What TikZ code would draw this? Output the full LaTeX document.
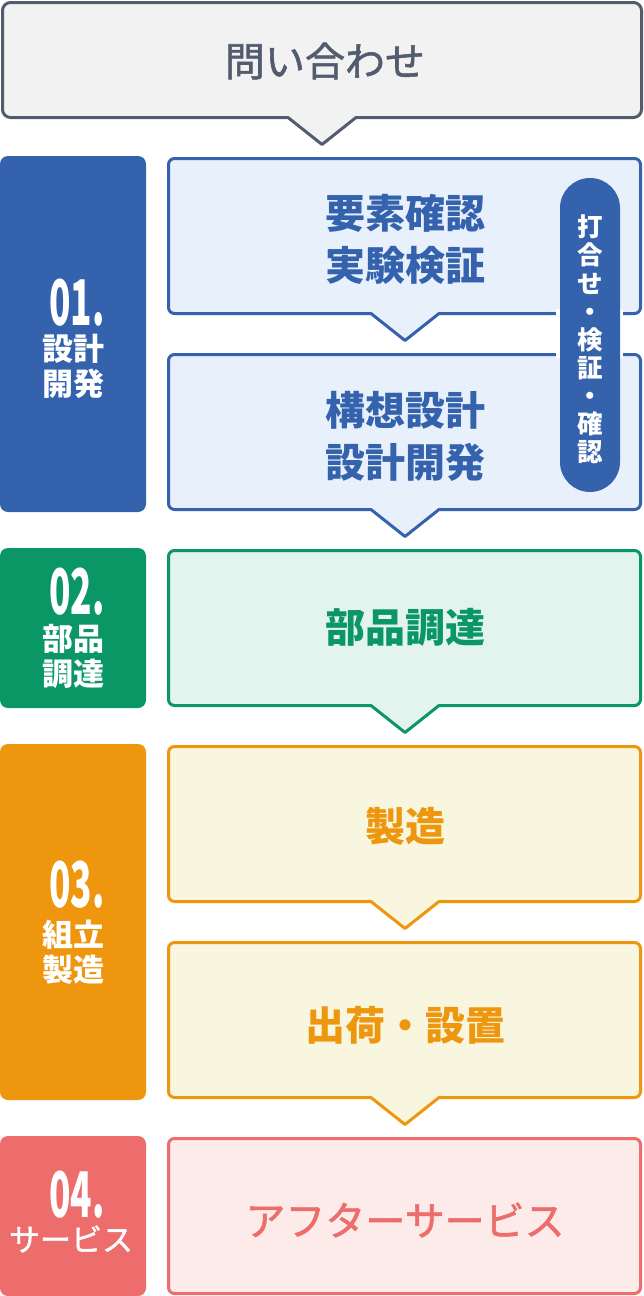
\documentclass[tikz,border=0pt]{standalone}
\usepackage{fontspec}
\newfontfamily\cjk{Noto Sans CJK JP}
\newfontfamily\cjkm{Noto Sans CJK JP}[FakeBold=1.4]
\definecolor{gline}{HTML}{535C6E}
\definecolor{gfill}{HTML}{F2F2F2}
\definecolor{bline}{HTML}{3462AD}
\definecolor{bfill}{HTML}{E8F1FB}
\definecolor{vline}{HTML}{0B9665}
\definecolor{vfill}{HTML}{E3F3EE}
\definecolor{oline}{HTML}{EE960D}
\definecolor{ofill}{HTML}{F8F6DF}
\definecolor{rline}{HTML}{ED6C6C}
\definecolor{rfill}{HTML}{FCEBE8}
% #1 style, #2 x1, #3 y1, #4 x2, #5 y2, #6 pointer x, #7 radius
\newcommand\mybubble[7]{%
  \draw[#1] (#6-34,#5) -- (#2+#7,#5)
    arc[start angle=90,end angle=180,radius=#7] -- (#2,#3+#7)
    arc[start angle=180,end angle=270,radius=#7] -- (#4-#7,#3)
    arc[start angle=270,end angle=360,radius=#7] -- (#4,#5-#7)
    arc[start angle=0,end angle=90,radius=#7] -- (#6+34,#5) -- (#6,#5+27) -- cycle;}
\newcommand\mybox[5]{%
  \draw[#1] (#2+6,#5)
    arc[start angle=90,end angle=180,radius=6] -- (#2,#3+6)
    arc[start angle=180,end angle=270,radius=6] -- (#4-6,#3)
    arc[start angle=270,end angle=360,radius=6] -- (#4,#5-6)
    arc[start angle=0,end angle=90,radius=6] -- cycle;}
\tikzset{
  bub/.style={line width=3pt, line join=round},
  tag/.style={rounded corners=8pt},
  boxtxt/.style={inner sep=0pt, align=center, font=\cjk\bfseries\fontsize{40}{52}\selectfont},
  tagnum/.style={inner sep=0pt, text=white, font=\cjk\bfseries\fontsize{63}{63}\selectfont},
  tagtxt/.style={inner sep=0pt, text=white, align=center, font=\cjk\bfseries\fontsize{31}{35}\selectfont},
}
\begin{document}
\begin{tikzpicture}[x=1pt,y=-1pt]
\useasboundingbox (0,0) rectangle (644,1296);
% top box
\mybubble{bub, draw=gline, fill=gfill}{2.5}{2.5}{641.5}{117.5}{322}{8}
\node[inner sep=0pt, text=gline, font=\cjkm\fontsize{40}{40}\selectfont] (ask) at (325,61) {問い合わせ};
% left tags
\fill[tag, bline] (0,156) rectangle (146,512);
\fill[tag, vline] (0,548) rectangle (146,708);
\fill[tag, oline] (0,744) rectangle (146,1100);
\fill[tag, rline] (0,1136) rectangle (146,1296);
\node[tagnum] (n1) at (77,303) {\scalebox{0.56}[1]{01.}};
\node[tagtxt] (t1) at (73,366.5) {設計\\開発};
\node[tagnum] (n2) at (77,592) {\scalebox{0.56}[1]{02.}};
\node[tagtxt] (t2) at (73,656.5) {部品\\調達};
\node[tagnum] (n3) at (77,884.5) {\scalebox{0.56}[1]{03.}};
\node[tagtxt] (t3) at (73,952) {組立\\製造};
\node[tagnum] (n4) at (77,1195) {\scalebox{0.56}[1]{04.}};
\node[tagtxt, font=\cjkm\fontsize{31}{35}\selectfont] (t4) at (71,1239) {サービス};
% right boxes
\mybubble{bub, draw=bline, fill=bfill}{168.5}{158.5}{640.5}{313.5}{405}{6}
\mybubble{bub, draw=bline, fill=bfill}{168.5}{354.5}{640.5}{509.5}{405}{6}
\mybubble{bub, draw=vline, fill=vfill}{168.5}{550.5}{640.5}{705.5}{405}{6}
\mybubble{bub, draw=oline, fill=ofill}{168.5}{746.5}{640.5}{901.5}{405}{6}
\mybubble{bub, draw=oline, fill=ofill}{168.5}{942.5}{640.5}{1097.5}{405}{6}
\mybox{bub, draw=rline, fill=rfill}{168.5}{1138.5}{640.5}{1293.5}
\node[boxtxt, text=bline] (s1) at (405,239) {要素確認\\実験検証};
\node[boxtxt, text=bline] (s2) at (405,436) {構想設計\\設計開発};
\node[boxtxt, text=vline] (s3) at (405,627) {部品調達};
\node[boxtxt, text=oline] (s4) at (405,826) {製造};
\node[boxtxt, text=oline] (s5) at (405,1025) {出荷・設置};
\node[boxtxt, text=rline, font=\cjkm\fontsize{40}{40}\selectfont] (s6) at (405,1220) {アフターサービス};
% pill
\fill[white] (556,309) rectangle (623,358);
\fill[bline, rounded corners=30pt] (560,178) rectangle (620,492);
\node[inner sep=0pt, text=white, align=center, font=\cjk\bfseries\fontsize{25.5}{28.1}\selectfont] (pill) at (590,339.5) {打\\合\\せ\\・\\検\\証\\・\\確\\認};
\end{tikzpicture}
\end{document}
